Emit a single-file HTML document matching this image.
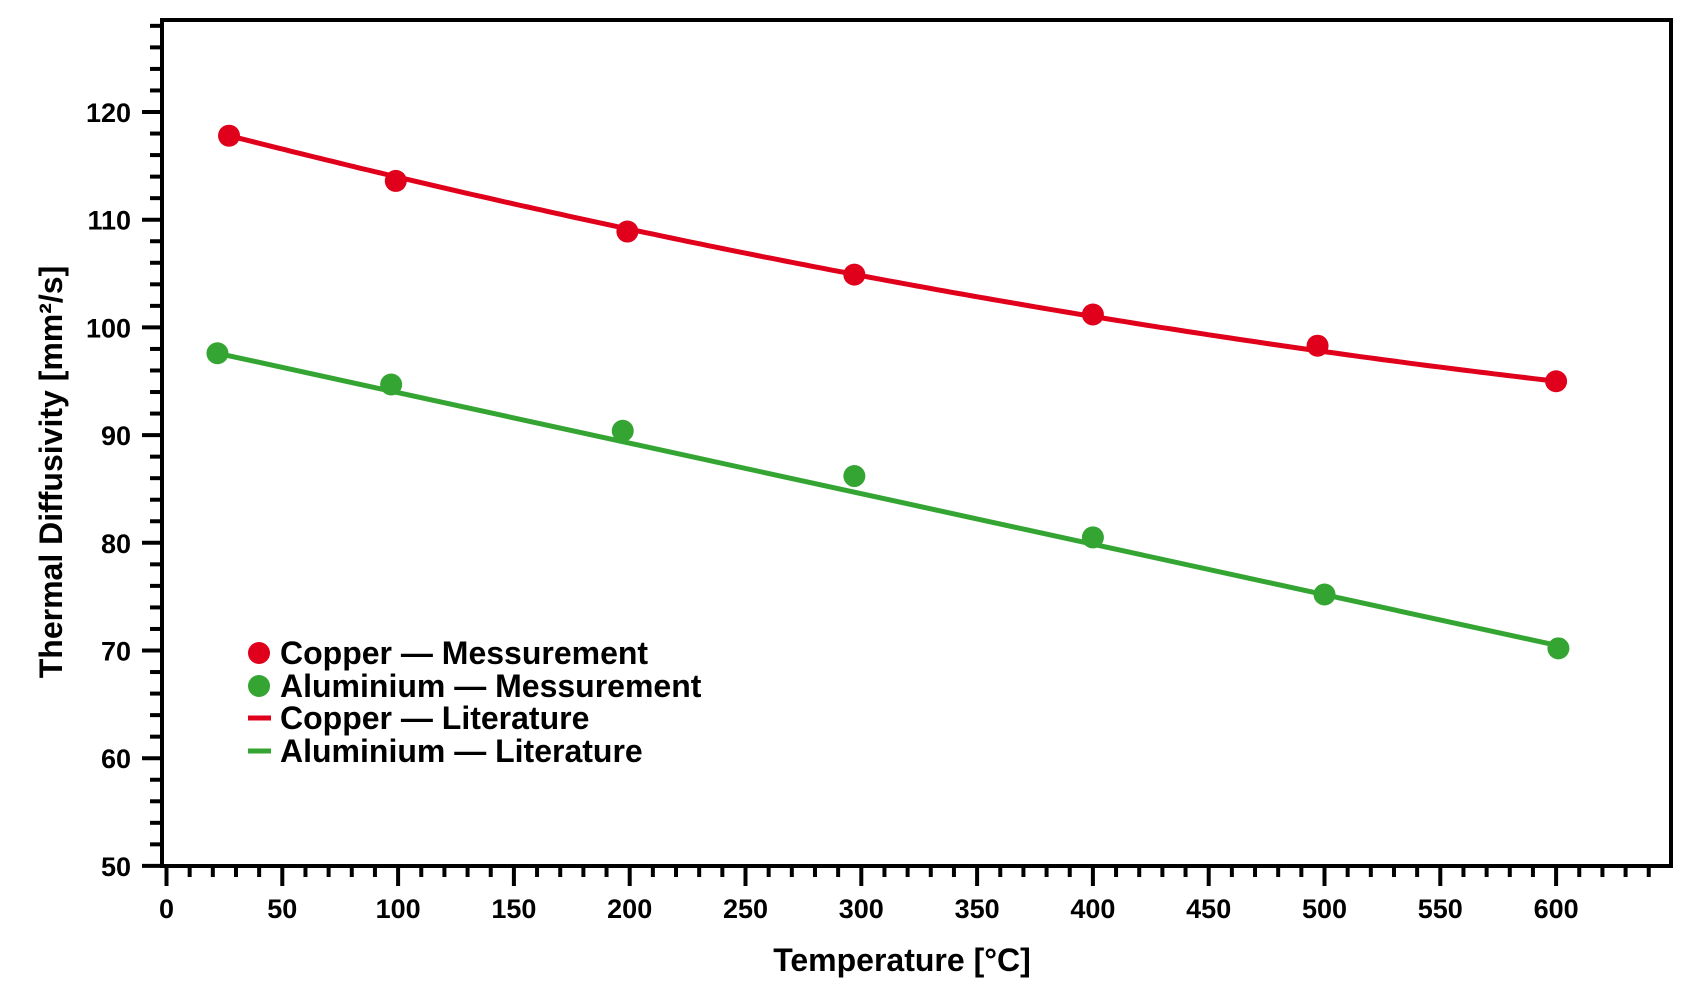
<!DOCTYPE html><html><head><style>body{margin:0;background:#fff}svg{display:block}text{font-family:"Liberation Sans",Arial,sans-serif;font-weight:bold}</style></head><body>
<svg width="1706" height="987" viewBox="0 0 1706 987" xmlns="http://www.w3.org/2000/svg">
<rect x="162" y="20" width="1509" height="846" fill="none" stroke="#000" stroke-width="4"/>
<g id="yt" stroke="#000" stroke-width="4"></g>
<g id="xt" stroke="#000" stroke-width="4"></g>
<g id="yl" font-size="27" text-anchor="end"></g>
<g id="xl" font-size="27" text-anchor="middle"></g>
<path id="cu" fill="none" stroke="#e0001b" stroke-width="5"/>
<path id="al" fill="none" stroke="#34a532" stroke-width="5"/>
<g id="pts"></g>
<text x="902" y="971" font-size="32" text-anchor="middle">Temperature [°C]</text>
<text transform="translate(62,472) rotate(-90)" font-size="32" text-anchor="middle">Thermal Diffusivity [mm²/s]</text>
<g font-size="32">
<circle cx="259" cy="653" r="11" fill="#e0001b"/><text x="280" y="664">Copper — Messurement</text>
<circle cx="259" cy="686" r="11" fill="#34a532"/><text x="280" y="697">Aluminium — Messurement</text>
<line x1="248" y1="718" x2="271" y2="718" stroke="#e0001b" stroke-width="5"/><text x="280" y="729">Copper — Literature</text>
<line x1="248" y1="751" x2="271" y2="751" stroke="#34a532" stroke-width="5"/><text x="280" y="762">Aluminium — Literature</text>
</g>
<script>
const NS="http://www.w3.org/2000/svg";
const X=v=>166.5+v*2.316, Y=v=>112+(120-v)*10.77;
function add(g,tag,a,t){const e=document.createElementNS(NS,tag);for(const k in a)e.setAttribute(k,a[k]);if(t!==undefined)e.textContent=t;document.getElementById(g).appendChild(e);}
for(let v=50;v<=128;v+=2){const y=Y(v),maj=v%10==0;add('yt','line',{x1:maj?142:150,x2:162,y1:y,y2:y});if(maj)add('yl','text',{x:131,y:y+10},v);}
for(let v=0;v<=640;v+=10){const x=X(v),maj=v%50==0;add('xt','line',{x1:x,x2:x,y1:866,y2:maj?886:877});if(maj)add('xl','text',{x:x,y:918},v);}
const cu=[[27,117.8],[99,113.6],[199,108.9],[297,104.9],[400,101.2],[497,98.3],[600,95]];
const al=[[22,97.6],[97,94.7],[197,90.4],[297,86.2],[400,80.5],[500,75.2],[601,70.2]];
let d='';for(let t=27;t<=600;t+=3){const v=119.3-0.05615*t+0.00002609*t*t;d+=(d?'L':'M')+X(t).toFixed(1)+','+Y(v).toFixed(1);}
document.getElementById('cu').setAttribute('d',d);
d='M'+X(22)+','+Y(98.63-0.0469*22)+'L'+X(601)+','+Y(98.63-0.0469*601);
document.getElementById('al').setAttribute('d',d);
cu.forEach(p=>add('pts','circle',{cx:X(p[0]),cy:Y(p[1]),r:11,fill:'#e0001b'}));
al.forEach(p=>add('pts','circle',{cx:X(p[0]),cy:Y(p[1]),r:11,fill:'#34a532'}));
</script>
</svg></body></html>
